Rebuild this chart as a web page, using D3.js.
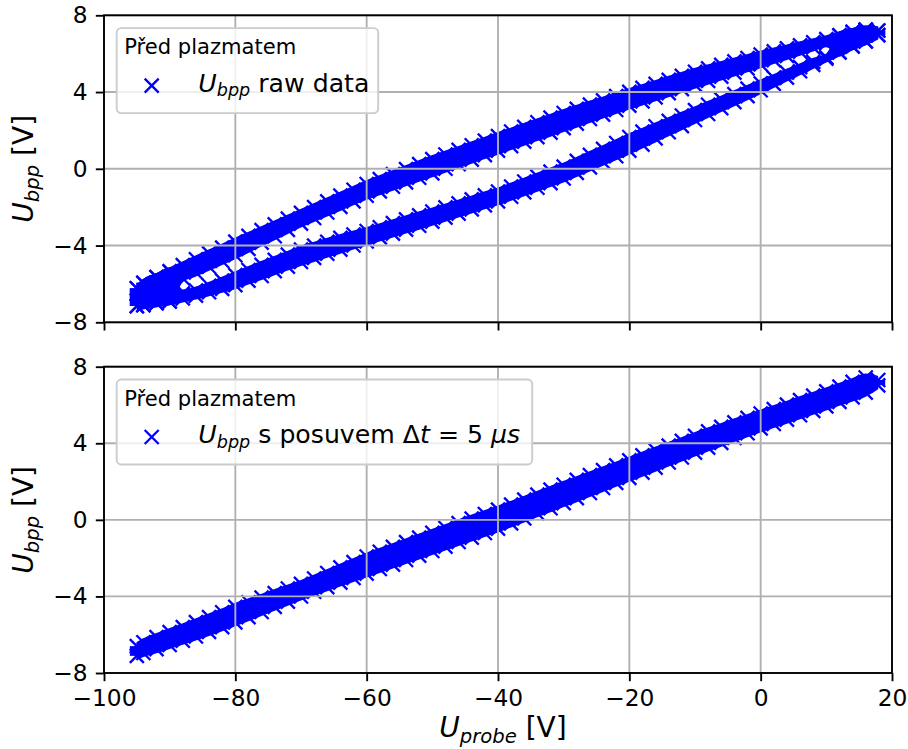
<!DOCTYPE html>
<html><head><meta charset="utf-8">
<script src="https://cdn.jsdelivr.net/npm/d3@7"></script>
<style>body{margin:0;background:#fff}svg{display:block}</style>
</head><body><svg id="chart" width="908" height="749"></svg>
<script>
// ---- data ----
const uProbe = [-95.0, -94, -92, -90, -88, -86, -84, -82, -80, -78,
  -76, -74, -72, -70, -68, -66, -64, -62, -60, -58,
  -56, -54, -52, -50, -48, -46, -44, -42, -40, -38,
  -36, -34, -32, -30, -28, -26, -24, -22, -20, -18,
  -16, -14, -12, -10, -8, -6, -4, -2, 0, 2,
  4, 6, 8, 10, 12, 14, 16, 17.9];
// top panel (raw data): upper branch of the loop, band top / band bottom
const rawUpperHi = [-5.88, -5.6, -5.3, -5.0, -4.68, -4.37, -4.06, -3.76, -3.45, -3.15,
  -2.85, -2.55, -2.25, -1.95, -1.65, -1.35, -1.05, -0.75, -0.45, -0.19,
  0.07, 0.33, 0.59, 0.85, 1.09, 1.33, 1.57, 1.81, 2.05, 2.29,
  2.53, 2.77, 3.01, 3.25, 3.47, 3.69, 3.91, 4.13, 4.35, 4.56,
  4.77, 4.98, 5.19, 5.4, 5.58, 5.76, 5.94, 6.12, 6.3, 6.46,
  6.62, 6.78, 6.94, 7.1, 7.3, 7.48, 7.6, 7.55];
const rawUpperLo = [-7.5, -7.45, -7.35, -7.25, -6.05, -5.75, -5.45, -5.15, -4.85, -4.52,
  -4.19, -3.86, -3.53, -3.2, -2.91, -2.62, -2.33, -2.04, -1.75, -1.52,
  -1.28, -1.05, -0.81, -0.58, -0.34, -0.1, 0.13, 0.37, 0.6, 0.84,
  1.07, 1.31, 1.54, 1.78, 2.01, 2.25, 2.48, 2.72, 2.95, 3.17,
  3.38, 3.6, 3.81, 4.03, 4.24, 4.46, 4.67, 4.89, 5.1, 5.32,
  5.54, 5.76, 5.98, 6.2, 5.72, 6.04, 6.3, 6.62];
// top panel (raw data): lower branch of the loop
const rawLowerHi = [-5.88, -5.6, -5.3, -5.0, -6.15, -6.0, -5.75, -5.48, -5.2, -4.93,
  -4.66, -4.4, -4.13, -3.86, -3.66, -3.46, -3.26, -3.08, -2.9, -2.7,
  -2.49, -2.29, -2.08, -1.88, -1.67, -1.46, -1.25, -1.04, -0.84, -0.58,
  -0.32, -0.06, 0.2, 0.46, 0.76, 1.07, 1.38, 1.69, 2.0, 2.28,
  2.56, 2.84, 3.12, 3.4, 3.68, 3.96, 4.24, 4.52, 4.8, 5.08,
  5.36, 5.64, 5.92, 6.15, 7.3, 7.48, 7.6, 7.55];
const rawLowerLo = [-7.5, -7.45, -7.35, -7.25, -7.1, -6.95, -6.78, -6.6, -6.41, -6.17,
  -5.93, -5.68, -5.44, -5.2, -4.99, -4.77, -4.56, -4.34, -4.13, -3.92,
  -3.72, -3.51, -3.31, -3.1, -2.89, -2.68, -2.46, -2.25, -2.04, -1.8,
  -1.57, -1.33, -1.09, -0.85, -0.56, -0.27, 0.02, 0.31, 0.6, 0.92,
  1.24, 1.56, 1.88, 2.2, 2.51, 2.82, 3.13, 3.44, 3.75, 4.08,
  4.41, 4.74, 5.07, 5.4, 5.72, 6.04, 6.3, 6.62];
// bottom panel (shifted by 5 us): single band
const shiftHi = [-6.25, -6.05, -5.78, -5.52, -5.26, -5.0, -4.74, -4.48, -4.2, -3.96,
  -3.72, -3.48, -3.24, -3.0, -2.72, -2.43, -2.14, -1.86, -1.57, -1.32,
  -1.07, -0.82, -0.58, -0.33, -0.08, 0.17, 0.41, 0.65, 0.88, 1.14,
  1.4, 1.66, 1.92, 2.18, 2.43, 2.68, 2.94, 3.19, 3.45, 3.71,
  3.97, 4.22, 4.47, 4.73, 4.97, 5.2, 5.44, 5.67, 5.9, 6.13,
  6.36, 6.6, 6.83, 7.06, 7.3, 7.55, 7.78, 7.65];
const shiftLo = [-7.45, -7.3, -7.1, -6.88, -6.66, -6.44, -6.2, -5.95, -5.7, -5.43,
  -5.16, -4.89, -4.62, -4.35, -4.1, -3.86, -3.62, -3.38, -3.15, -2.91,
  -2.68, -2.44, -2.21, -1.97, -1.74, -1.5, -1.27, -1.03, -0.8, -0.53,
  -0.27, 0.0, 0.26, 0.53, 0.79, 1.06, 1.32, 1.59, 1.85, 2.12,
  2.38, 2.65, 2.91, 3.17, 3.43, 3.68, 3.93, 4.18, 4.43, 4.66,
  4.89, 5.12, 5.35, 5.58, 5.82, 6.05, 6.3, 6.68];
const xTicks = [-100, -80, -60, -40, -20, 0, 20];
const yTicks = [-8, -4, 0, 4, 8];
const xDomain = [-100, 20];
const yDomain = [-8, 8];
const legendTitle = "Před plazmatem";
const legendEntries = [
  [{t: "U", i: 1}, {t: "bpp", i: 1, sub: 1}, {t: " raw data"}],
  [{t: "U", i: 1}, {t: "bpp", i: 1, sub: 1}, {t: " s posuvem \u0394"}, {t: "t", i: 1}, {t: " = 5 "}, {t: "\u03bcs", i: 1}]
];
const xLabel = [{t: "U", i: 1}, {t: "probe", i: 1, sub: 1}, {t: " [V]"}];
const yLabel = [{t: "U", i: 1}, {t: "bpp", i: 1, sub: 1}, {t: " [V]"}];

// ---- drawing ----
const FONT = '"DejaVu Sans", sans-serif';
const BLUE = "#0000ff";
const svg = d3.select("#chart");
const L = 104, Rr = 892;
const xScale = d3.scaleLinear().domain(xDomain).range([L, Rr]);
const fmt = d => d < 0 ? "\u2212" + Math.abs(d) : String(d);
const MR = 7, OFF = 6.6, CORE = 2.6, SW = 2.35, LW = 1.88;
const xPath = `M${-MR},${-MR}L${MR},${MR}M${-MR},${MR}L${MR},${-MR}`;

function richText(sel, parts, size, subSize, shift) {
  let inSub = false;
  parts.forEach(p => {
    const ts = sel.append("tspan").text(p.t)
      .attr("font-style", p.i ? "italic" : "normal")
      .attr("font-size", p.sub ? subSize : size);
    if (p.sub && !inSub) { ts.attr("dy", shift); inSub = true; }
    else if (!p.sub && inSub) { ts.attr("dy", -shift); inSub = false; }
  });
}

const panels = [
  {top: 15.3, bottom: 322.3, bands: [[rawUpperHi, rawUpperLo], [rawLowerHi, rawLowerLo]], showX: false, legend: 0, lgW: 261.5},
  {top: 366.7, bottom: 673, bands: [[shiftHi, shiftLo]], showX: true, legend: 1, lgW: 415.5}
];

panels.forEach((p, pi) => {
  const y = d3.scaleLinear().domain(yDomain).range([p.bottom, p.top]);
  const clipId = "clip" + pi;
  svg.append("clipPath").attr("id", clipId).append("rect")
    .attr("x", L).attr("y", p.top).attr("width", Rr - L).attr("height", p.bottom - p.top);
  const dg = svg.append("g").attr("clip-path", `url(#${clipId})`);
  p.bands.forEach(([hi, lo]) => {
    const pts = uProbe.map((u, i) => {
      const yh = y(hi[i]), yl = y(lo[i]);
      let a = yh + OFF, b = yl - OFF;
      if (a > b) { const m = (a + b) / 2; a = b = m; }
      let ca = yh + CORE, cb = yl - CORE;
      if (ca > cb) { const m = (ca + cb) / 2; ca = cb = m; }
      return {px: xScale(u), a, b, ca, cb};
    });
    dg.append("path").datum(pts)
      .attr("d", d3.area().x(d => d.px).y0(d => d.cb).y1(d => d.ca).curve(d3.curveMonotoneX))
      .attr("fill", BLUE);
    dg.selectAll(null).data(pts).join("line")
      .attr("x1", d => d.px).attr("x2", d => d.px).attr("y1", d => d.a).attr("y2", d => d.b)
      .attr("stroke", BLUE).attr("stroke-width", 2 * MR);
    dg.selectAll(null).data(pts.flatMap(d => [[d.px, d.a], [d.px, d.b]])).join("path")
      .attr("d", xPath).attr("transform", d => `translate(${d[0]},${d[1]})`)
      .attr("fill", "none").attr("stroke", BLUE).attr("stroke-width", SW);
  });
  // grid (drawn over the markers)
  const gg = svg.append("g").attr("stroke", "#b0b0b0").attr("stroke-width", LW);
  gg.selectAll(null).data(xTicks).join("line")
    .attr("x1", d => xScale(d)).attr("x2", d => xScale(d)).attr("y1", p.top).attr("y2", p.bottom);
  gg.selectAll(null).data(yTicks).join("line")
    .attr("y1", d => y(d)).attr("y2", d => y(d)).attr("x1", L).attr("x2", Rr);
  // spines
  svg.append("rect").attr("x", L).attr("y", p.top).attr("width", Rr - L).attr("height", p.bottom - p.top)
    .attr("fill", "none").attr("stroke", "#000").attr("stroke-width", LW);
  // axes
  const ax = svg.append("g").attr("transform", `translate(0,${p.bottom})`)
    .call(d3.axisBottom(xScale).tickValues(xTicks).tickSize(8.2).tickPadding(8.2).tickFormat(p.showX ? fmt : () => ""));
  const ay = svg.append("g").attr("transform", `translate(${L},0)`)
    .call(d3.axisLeft(y).tickValues(yTicks).tickSize(8.2).tickPadding(8.2).tickFormat(fmt));
  [ax, ay].forEach(a => {
    a.select(".domain").remove();
    a.attr("font-family", FONT).attr("font-size", 23.3);
    a.selectAll(".tick line").attr("stroke", "#000").attr("stroke-width", LW);
    a.selectAll(".tick text").attr("fill", "#000");
  });
  // y label
  const yl = svg.append("text").attr("transform", `translate(33,${(p.top + p.bottom) / 2}) rotate(-90)`)
    .attr("text-anchor", "middle").attr("font-family", FONT).attr("fill", "#000");
  richText(yl, yLabel, 28, 19.6, 5.5);
  // legend
  const lx = 116.7, ly = p.top + 12.8;
  const lg = svg.append("g");
  lg.append("rect").attr("x", lx).attr("y", ly).attr("width", p.lgW).attr("height", 85).attr("rx", 4.5)
    .attr("fill", "#fff").attr("fill-opacity", 0.8).attr("stroke", "#cccccc").attr("stroke-width", 1.9);
  lg.append("text").attr("x", lx + 7.5).attr("y", ly + 26).attr("font-family", FONT).attr("font-size", 21.1)
    .attr("fill", "#000").text(legendTitle);
  lg.append("path").attr("d", xPath).attr("transform", `translate(${lx + 35},${ly + 57.5})`)
    .attr("fill", "none").attr("stroke", BLUE).attr("stroke-width", SW);
  const lt = lg.append("text").attr("x", lx + 81.6).attr("y", ly + 63.5).attr("font-family", FONT).attr("fill", "#000");
  richText(lt, legendEntries[p.legend], 25.2, 17.6, 4.8);
});
// x label
const xl = svg.append("text").attr("x", (L + Rr) / 2 + 5).attr("y", 737).attr("text-anchor", "middle")
  .attr("font-family", FONT).attr("fill", "#000");
richText(xl, xLabel, 28, 19.6, 5.5);
</script></body></html>
